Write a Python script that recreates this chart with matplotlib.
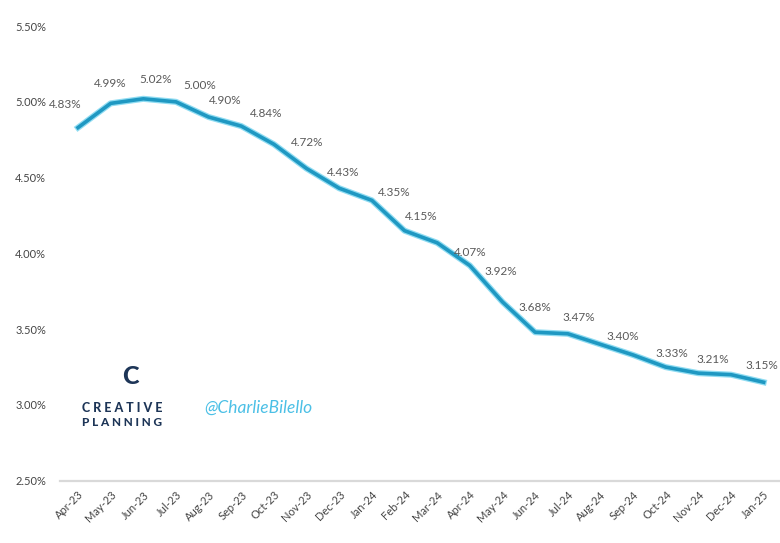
import matplotlib
matplotlib.use("Agg")
import matplotlib.pyplot as plt
import matplotlib.patheffects as pe

plt.rcParams['font.family'] = ['Lato', 'DejaVu Sans']

months = ['Apr-23', 'May-23', 'Jun-23', 'Jul-23', 'Aug-23', 'Sep-23', 'Oct-23', 'Nov-23',
          'Dec-23', 'Jan-24', 'Feb-24', 'Mar-24', 'Apr-24', 'May-24', 'Jun-24', 'Jul-24',
          'Aug-24', 'Sep-24', 'Oct-24', 'Nov-24', 'Dec-24', 'Jan-25']
rate = [4.83, 4.99, 5.02, 5.00, 4.90, 4.84, 4.72, 4.56, 4.43, 4.35, 4.15,
        4.07, 3.92, 3.68, 3.48, 3.47, 3.40, 3.33, 3.25, 3.21, 3.20, 3.15]
# months whose value label is shown on the chart
labeled = ['Apr-23', 'May-23', 'Jun-23', 'Jul-23', 'Aug-23', 'Sep-23', 'Oct-23',
           'Dec-23', 'Jan-24', 'Feb-24', 'Mar-24', 'Apr-24', 'May-24', 'Jul-24',
           'Aug-24', 'Sep-24', 'Nov-24', 'Jan-25']
yticks = [2.5, 3.0, 3.5, 4.0, 4.5, 5.0, 5.5]

# label offsets in points (dx, dy)
offsets = {'Apr-23': (-9, 17), 'May-23': (0, 14), 'Jun-23': (9, 14), 'Jul-23': (17, 12),
           'Aug-23': (12, 12), 'Sep-23': (18, 9), 'Oct-23': (24, 1), 'Dec-23': (3, 11),
           'Jan-24': (16, 6), 'Feb-24': (12, 10), 'Mar-24': (24, -7), 'Apr-24': (22, -4),
           'May-24': (23, -4), 'Jul-24': (8, 12), 'Aug-24': (16, 6), 'Sep-24': (28, 1),
           'Nov-24': (10, 10), 'Jan-25': (-1, 12)}

fig = plt.figure(figsize=(7.8, 5.43), dpi=100)
ax = fig.add_axes([0.077, 0.1146, 0.923, 0.8374])

x = list(range(len(months)))
ax.plot(x, rate, color='#1f98c2', lw=2.6, solid_joinstyle='round',
        path_effects=[pe.Stroke(linewidth=4.4, foreground='#8fdcf2'), pe.Normal()])

for i, m in enumerate(months):
    if m in labeled:
        dx, dy = offsets[m]
        ax.annotate(f'{rate[i]:.2f}%', (i, rate[i]), xytext=(dx, dy),
                    textcoords='offset points', ha='center', va='center',
                    fontsize=8.5, color='#5a5a5a')

ax.set_xlim(-0.55, 21.5)
ax.set_ylim(2.5, 5.5)
ax.set_yticks(yticks)
ax.set_yticklabels([f'{v:.2f}%' for v in yticks], fontsize=8, color='#454545')
ax.set_xticks(x)
ax.set_xticklabels(months, rotation=45, ha='right', rotation_mode='anchor',
                   fontsize=8, color='#454545')
ax.tick_params(axis='both', length=0)
ax.tick_params(axis='y', pad=10)
ax.tick_params(axis='x', pad=6)

for s in ['top', 'right', 'left']:
    ax.spines[s].set_visible(False)
ax.spines['bottom'].set_color('#d9d9d9')
ax.spines['bottom'].set_linewidth(1.6)

# branding
fig.text(130 / 780, 1 - 377 / 543, 'C', fontsize=18, fontweight='black',
         color='#1d3557', ha='center', va='center')
fig.text(82 / 780, 1 - 408 / 543, 'C R E A T I V E', fontsize=9, fontweight='black',
         color='#1d3557', ha='left', va='center')
fig.text(82 / 780, 1 - 422 / 543, 'P L A N N I N G', fontsize=8.5, fontweight='black',
         color='#1d3557', ha='left', va='center')
fig.text(258 / 780, 1 - 408 / 543, '@CharlieBilello', fontsize=12.5, style='italic',
         color='#4cc0e6', ha='center', va='center')

fig.savefig('out.png', dpi=100, facecolor='white')
